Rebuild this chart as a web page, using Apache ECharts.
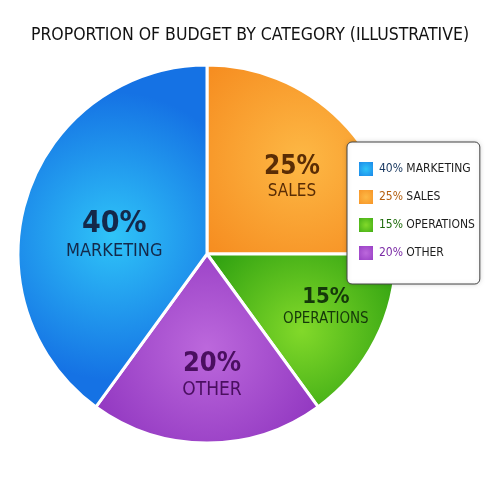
<!DOCTYPE html>
<html>
<head>
<meta charset="utf-8">
<script src="https://cdn.jsdelivr.net/npm/echarts@6/dist/echarts.min.js"></script>
<style>html,body{margin:0;padding:0;background:#fff;}#c{width:500px;height:500px;}</style>
</head>
<body>
<div id="c"></div>
<script>
// Data
var categories = ['SALES', 'OPERATIONS', 'OTHER', 'MARKETING'];
var shares = [25, 15, 20, 40];
var legendOrder = ['MARKETING', 'SALES', 'OPERATIONS', 'OTHER'];
var titleText = 'PROPORTION OF BUDGET BY CATEGORY (ILLUSTRATIVE)';

// Styles
var FONT = "'Liberation Sans Narrow', 'DejaVu Sans Condensed', 'Roboto', sans-serif";
var sliceStyle = {
  'SALES':      {inner: '#fdb845', outer: '#f5881c', text: '#5a2d05', pct: 26, name: 17, legendPct: '#b4600f', shift: [16, -7]},
  'OPERATIONS': {inner: '#82d92a', outer: '#2d9f10', text: '#15380a', pct: 22, name: 15, legendPct: '#1f6b0c', shift: [32, 9]},
  'OTHER':      {inner: '#bc68dc', outer: '#8c31bd', text: '#4a0f60', pct: 27, name: 19, legendPct: '#7a2aa5', shift: [5, 24]},
  'MARKETING':  {inner: '#2fc4f8', outer: '#1572e4', text: '#14294a', pct: 30, name: 18, legendPct: '#16365e', shift: [0, 11]}
};

function grad(s) {
  return {
    type: 'radial', x: 0.5, y: 0.5, r: 0.75,
    colorStops: [{offset: 0, color: s.inner}, {offset: 1, color: s.outer}]
  };
}

var pieData = categories.map(function (c, i) {
  var s = sliceStyle[c];
  return {
    name: c,
    value: shares[i],
    itemStyle: {color: grad(s)},
    label: {
      formatter: '{p|' + shares[i] + '%}\n{n|' + c + '}',
      rich: {
        p: {fontSize: s.pct, fontWeight: 'bold', color: s.text, fontFamily: FONT, lineHeight: s.pct + 2, align: 'center'},
        n: {fontSize: s.name, color: s.text, fontFamily: FONT, lineHeight: s.name + 4, align: 'center'}
      }
    }
  };
});

var legendRich = {n: {fontSize: 12, color: '#1d1d1d', fontFamily: FONT}};
categories.forEach(function (c, i) {
  legendRich['p' + i] = {fontSize: 12, color: sliceStyle[c].legendPct, fontFamily: FONT};
});

var chart = echarts.init(document.getElementById('c'));
chart.setOption({
  backgroundColor: '#ffffff',
  animation: false,
  title: {
    text: titleText,
    left: 'center',
    top: 21,
    textStyle: {fontFamily: FONT, fontSize: 17.5, fontWeight: 'normal', color: '#111'}
  },
  legend: {
    data: legendOrder,
    orient: 'vertical',
    left: 347,
    top: 142,
    padding: [18, 5, 22, 10],
    itemGap: 10,
    itemWidth: 16,
    itemHeight: 16,
    backgroundColor: '#ffffff',
    borderColor: '#444',
    borderWidth: 1,
    borderRadius: 5,
    shadowColor: 'rgba(0,0,0,0.15)',
    shadowBlur: 4,
    icon: 'rect',
    formatter: function (name) {
      var i = categories.indexOf(name);
      return '{p' + i + '|' + shares[i] + '%} {n|' + name + '}';
    },
    textStyle: {rich: legendRich}
  },
  series: [{
    type: 'pie',
    center: [207, 254],
    radius: [0, 189],
    startAngle: 90,
    clockwise: true,
    silent: true,
    itemStyle: {borderColor: '#ffffff', borderWidth: 3},
    label: {show: true, position: 'inside'},
    labelLine: {show: false},
    labelLayout: function (params) {
      var s = sliceStyle[categories[params.dataIndex]];
      return {dx: s.shift[0], dy: s.shift[1]};
    },
    data: pieData
  }]
});
</script>
</body>
</html>
